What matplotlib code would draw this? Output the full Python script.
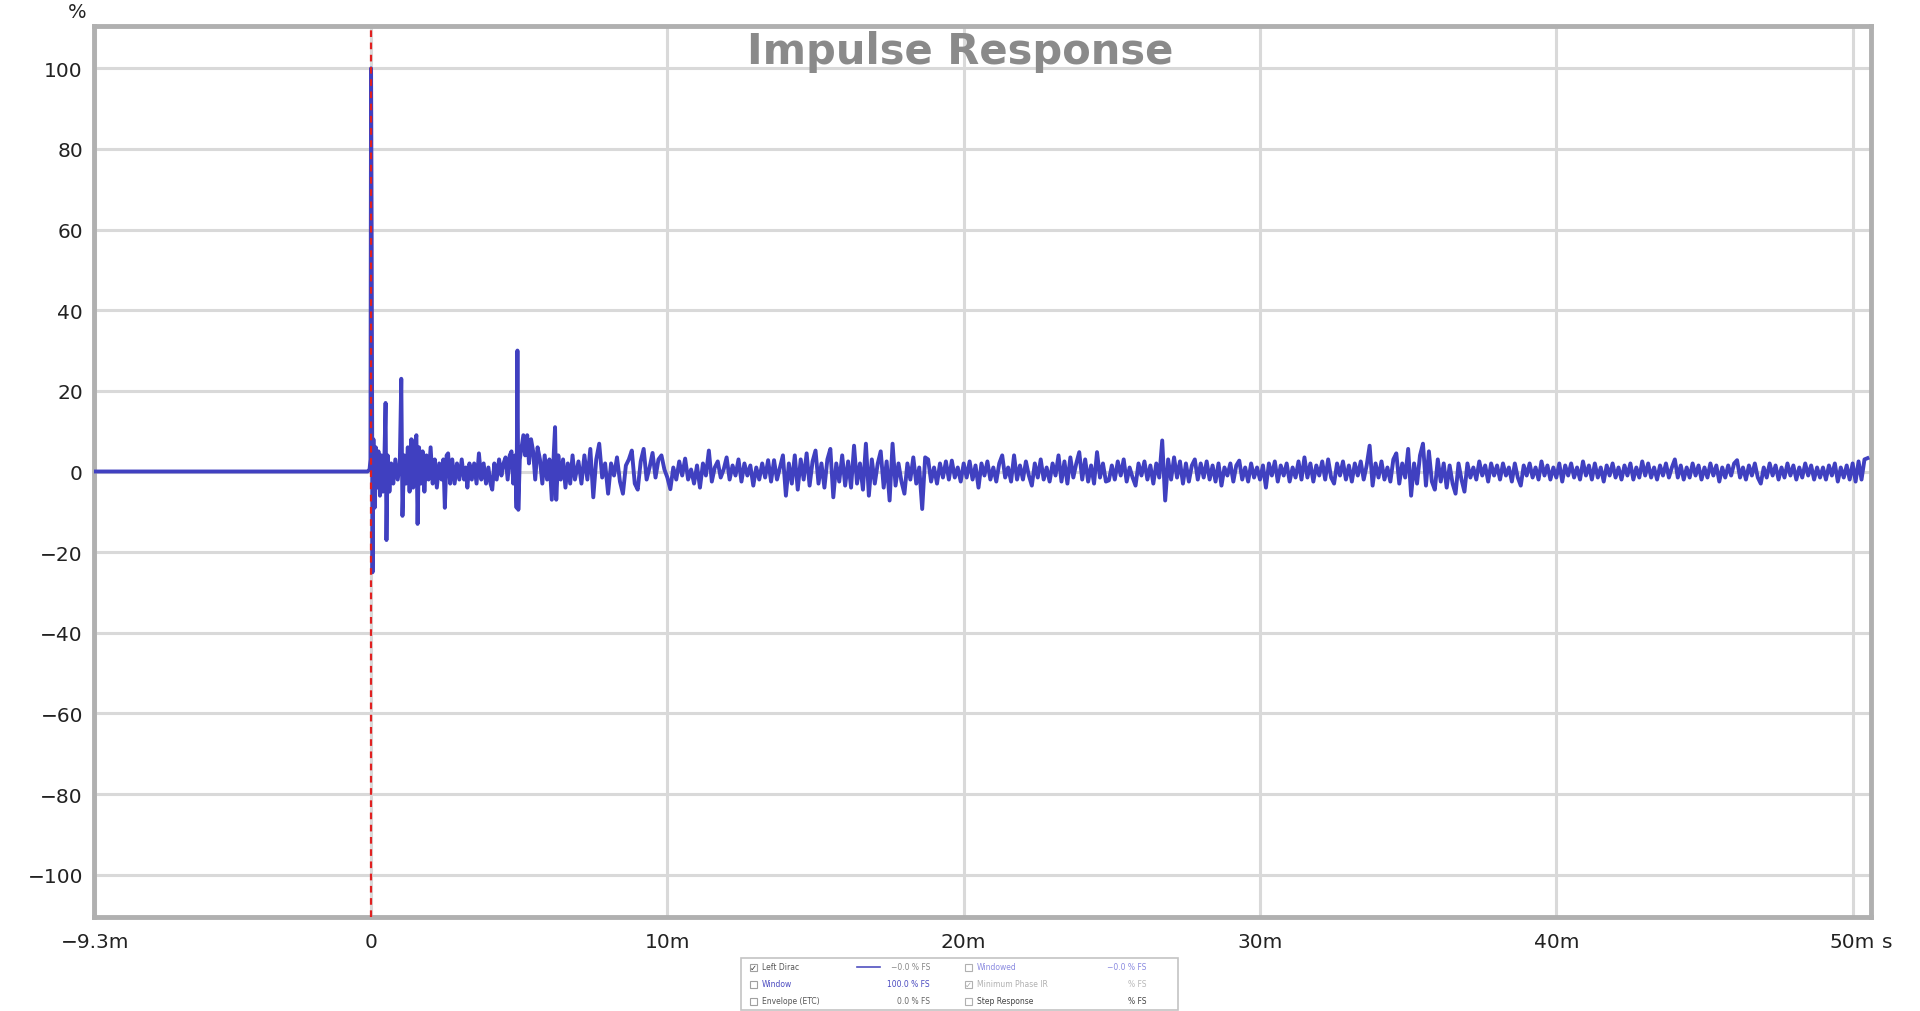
import matplotlib.pyplot as plt
import numpy as np
from matplotlib.patches import Rectangle
from matplotlib.lines import Line2D

# ---- data ----
# time in ms, amplitude in % FS
early_t = [-9.30, -0.12, -0.05, -0.02, 0.00, 0.02, 0.05, 0.08, 0.12, 0.16,
           0.20, 0.25, 0.30, 0.35, 0.40, 0.45, 0.49, 0.52, 0.56, 0.62,
           0.68, 0.75, 0.82, 0.90, 0.97, 1.02, 1.06, 1.12, 1.18, 1.24,
           1.30, 1.36, 1.42, 1.48, 1.53, 1.57, 1.62, 1.68, 1.74, 1.80,
           1.87, 1.94, 2.01, 2.08, 2.15, 2.22, 2.30, 2.38, 2.44, 2.49,
           2.55, 2.60, 2.67, 2.74, 2.82, 2.90, 2.98, 3.06, 3.14, 3.20,
           3.25, 3.32, 3.40, 3.48, 3.56, 3.64, 3.72, 3.80, 3.88, 3.96,
           4.03, 4.09, 4.16, 4.24, 4.32, 4.40, 4.47, 4.54, 4.61, 4.68,
           4.74, 4.80, 4.86, 4.91, 4.94, 4.97, 5.02, 5.08, 5.14, 5.20,
           5.27, 5.33, 5.40, 5.47, 5.54, 5.62, 5.70, 5.78, 5.86, 5.94,
           6.02, 6.10, 6.17, 6.21, 6.25, 6.32, 6.40, 6.48, 6.56, 6.64,
           6.72, 6.80, 6.88]
early_v = [0.0, 0.0, 0.5, 3.0, 100.0, 60.0, -25.0, 8.0, -9.0, 6.0,
           -4.0, 5.0, -6.0, 4.0, -5.0, 3.0, 17.0, -17.0, 4.0, -5.0,
           2.0, -3.0, 3.0, -2.0, 2.0, 23.0, -11.0, 4.0, -3.0, 6.0,
           -5.0, 8.0, -4.0, 7.0, 9.0, -13.0, 6.0, -3.0, 5.0, -5.0,
           4.0, -2.0, 6.0, -3.0, 3.0, -4.0, 2.0, -2.0, 3.0, -9.0,
           4.0, 4.5, -3.0, 3.0, -3.0, 2.0, -2.0, 3.0, -2.0, 1.0,
           -4.0, 2.0, -2.0, 2.0, -3.0, 4.5, -2.0, 2.0, -3.0, 1.0,
           -3.0, -4.5, 2.0, -2.0, 3.0, -1.0, 2.0, 3.5, -2.0, 4.0,
           5.0, -3.0, 4.0, -9.0, 30.0, -9.5, 3.0, 6.0, 9.0, 4.0,
           9.0, 2.0, 8.0, 5.0, -2.0, 6.0, 3.0, -3.0, 4.0, -2.0,
           3.0, -7.0, 5.0, 11.0, -7.0, 4.0, -2.0, 3.0, -4.0, 2.0,
           -3.0, 4.0, -2.0]

# tail of the response, one sample every 0.1 ms from 7.0 ms
tail_start = 7.0
tail_step = 0.1
tail_v = [
    2.5, -3.0, 4.0, -2.0, 5.6, -6.4, 3.0, 6.9, -1.5, 2.0,      # 7 ms
    -5.5, 2.0, -1.0, 3.5, -2.5, -5.5, 1.5, 3.0, 5.2, -3.0,     # 8
    -4.5, 2.5, 5.6, -2.0, 1.0, 4.6, -1.5, 3.0, 4.0, 0.5,       # 9
    -1.5, -4.4, 1.0, -2.0, 2.5, -1.0, 3.2, -2.0, 0.5, -3.0,    # 10
    1.5, -4.0, 2.0, -1.0, 5.2, -2.5, 1.0, 2.5, -1.5, 0.5,      # 11
    3.5, -2.0, 1.5, -1.0, 3.0, -2.5, 2.0, -1.0, 1.5, -3.5,     # 12
    1.0, -2.0, 2.0, -1.5, 2.8, -2.5, 2.8, -2.0, 1.0, 4.0,      # 13
    -6.0, 2.0, -3.0, 4.0, -4.5, 3.0, -2.0, 4.5, -3.5, 2.5,     # 14
    5.2, -3.0, 2.0, -4.0, 3.0, 5.6, -6.4, 2.0, -2.5, 4.0,      # 15
    -3.5, 2.5, -4.0, 6.4, -3.0, 2.0, -4.5, 6.9, -6.0, 3.0,     # 16
    -3.0, 2.0, 5.0, -4.0, 2.5, -7.2, 6.9, -3.5, 2.0, -2.5,     # 17
    -5.5, 2.0, -2.0, 3.5, -3.0, 1.0, -9.3, 3.5, 3.0, -2.5,     # 18
    1.0, -3.0, 2.0, -1.5, 2.5, -2.0, 2.7, -1.5, 1.0, -2.5,     # 19
    2.0, -1.5, 2.5, -2.0, 1.5, -4.0, 2.0, -1.0, 2.5, -2.0,     # 20
    1.0, -2.5, 2.0, 4.0, -1.5, 1.0, -2.5, 4.0, -2.0, 1.5,      # 21
    -2.0, 2.5, -1.0, -3.5, 2.0, -1.5, 3.0, -2.0, 1.0, -2.5,    # 22
    2.0, -1.0, 4.0, -2.5, 2.5, -3.0, 3.5, -1.5, 2.0, 4.8,      # 23
    -2.0, 3.0, -2.5, 1.5, -3.0, 4.8, -1.5, 2.0, -2.5, -2.2,    # 24
    1.5, -2.0, 2.5, -1.0, 3.0, -2.5, 1.0, -1.5, -3.5, 2.0,     # 25
    -1.0, 2.5, -2.0, 1.5, -3.0, 2.0, -1.5, 7.7, -7.2, 3.0,     # 26
    -2.0, 3.5, -1.5, 2.5, -3.0, 2.0, -2.5, 1.5, 3.0, -2.0,     # 27
    2.0, -1.5, 2.5, -2.0, 1.5, -2.5, 2.0, -3.5, 1.0, -1.0,     # 28
    2.0, -2.5, 1.5, 2.7, -2.0, 1.0, -2.5, 2.0, -1.5, 1.0,      # 29
    -2.0, 1.5, -4.0, 2.0, -1.0, 2.5, -2.5, 1.5, -1.0, 2.0,     # 30
    -2.5, 1.0, -1.5, 2.5, -2.0, 3.5, -1.5, 2.0, -2.5, 1.5,     # 31
    -1.0, 2.5, -2.0, 3.0, -1.5, -3.0, 2.0, -1.0, 2.5, -2.0,    # 32
    1.5, -2.5, 2.0, -1.0, 2.5, -2.0, 1.5, 6.4, -3.5, 2.0,      # 33
    -1.5, 2.5, -2.0, 1.0, -2.5, 3.0, 4.5, -3.0, 2.0, -1.5,     # 34
    5.6, -6.0, 2.0, -3.0, 4.0, 6.9, -3.5, 5.0, -2.5, -4.5,     # 35
    3.0, -2.5, 2.0, -4.0, 1.5, -3.0, -5.5, 2.0, -2.0, -5.0,    # 36
    2.0, -1.5, 1.0, -2.0, 2.5, -1.0, 1.5, -2.5, 2.0, -1.0,     # 37
    1.5, -2.0, 2.0, -1.0, 1.0, -2.5, 2.0, -1.5, -3.5, 1.5,     # 38
    -1.0, 2.0, -1.5, 1.0, -2.0, 2.5, -1.0, 1.5, -2.0, 1.0,     # 39
    -1.5, 2.0, -2.5, 1.5, -1.0, 2.0, -1.5, 1.0, -2.0, 2.5,     # 40
    -1.0, 1.5, -2.0, 2.0, -1.5, 1.0, -2.5, 1.5, -1.0, 2.0,     # 41
    -1.5, 1.0, -2.0, 1.5, -1.0, 2.0, -2.0, 1.0, -1.5, 2.5,     # 42
    -1.0, 2.0, -1.5, 1.0, -2.0, 1.5, -1.0, 2.0, -1.5, 1.0,     # 43
    3.0, -1.5, 1.5, -2.0, 1.0, -1.5, 2.0, -1.0, 1.5, -2.0,     # 44
    1.0, -1.5, 2.0, -1.0, 1.5, -2.5, 1.0, -1.5, 1.5, -1.0,     # 45
    2.0, 2.8, -1.5, 1.0, -2.0, 1.5, -1.0, 2.0, -1.5, -3.0,     # 46
    1.0, -1.5, 2.0, -1.0, 1.5, -2.0, 1.0, -1.5, 2.0, -1.0,     # 47
    1.5, -2.0, 1.0, -1.5, 2.0, -1.0, 1.5, -2.0, 1.0, -1.5,     # 48
    1.0, -2.0, 1.5, -1.0, 2.0, -2.5, 1.0, -1.5, 1.5, -2.0,     # 49
    2.0, -2.5, 2.5, -2.0, 3.0, 3.3,                            # 50
]

x_ticks = [-9.3, 0, 10, 20, 30, 40, 50]
x_labels = ['\u22129.3m', '0', '10m', '20m', '30m', '40m', '50m']
y_ticks = [100, 80, 60, 40, 20, 0, -20, -40, -60, -80, -100]

legend_rows = [
    # (checked, label, label colour, value, value colour)
    (True, 'Left Dirac', '#555555', '\u22120.0 % FS', '#888888'),
    (False, 'Window', '#4a4ac0', '100.0 % FS', '#4a4ac0'),
    (False, 'Envelope (ETC)', '#555555', '0.0 % FS', '#666666'),
]
legend_rows2 = [
    (False, 'Windowed', '#8a8ae0', '\u22120.0 % FS', '#8a8ae0'),
    (True, 'Minimum Phase IR', '#b0b0b0', '% FS', '#b8b8b8'),
    (False, 'Step Response', '#444444', '% FS', '#444444'),
]

W, H = 1920, 1012
line_col = '#4040c0'

t_all = early_t + list(tail_start + tail_step * np.arange(len(tail_v)))
v_all = early_v + tail_v

fig = plt.figure(figsize=(W / 100, H / 100), dpi=100)
ax = fig.add_axes([94 / W, 94 / H, (1871 - 94) / W, (985 - 94) / H])

ax.plot(t_all, v_all, color=line_col, lw=2.8, zorder=3, solid_joinstyle='round')
ax.axvline(0, color='#e02020', lw=1.6, ls=(0, (3, 2.5)), zorder=4)

ax.set_xlim(-9.35, 50.62)
ax.set_ylim(-110.5, 110.5)
ax.set_xticks(x_ticks)
ax.set_xticklabels(x_labels)
ax.set_yticks(y_ticks)
ax.set_yticklabels([str(v).replace('-', '\u2212') for v in y_ticks])
ax.tick_params(length=0, labelsize=14.5, colors='#222222')
ax.tick_params(axis='x', pad=11)
ax.tick_params(axis='y', pad=8)
ax.grid(True, color='#d9d9d9', lw=2.2, zorder=0)
ax.set_axisbelow(True)
for s in ax.spines.values():
    s.set_color('#b0b0b0')
    s.set_linewidth(3.5)

# units
ax.annotate('s', xy=(50, 0), xycoords=('data', 'axes fraction'),
            xytext=(25, -11), textcoords='offset points',
            ha='center', va='top', fontsize=14.5, color='#222222')
fig.text(77 / W, 1 - 12 / H, '%', ha='center', va='center', fontsize=14, color='#222222')

fig.text(0.5, 1 - 52 / H, 'Impulse Response', ha='center', va='center',
         fontsize=30, fontweight='bold', color='#8a8a8a')


# ---- legend panel under the plot ----
def fx(px):
    return px / W


def fy(py):
    return 1 - py / H


fig.add_artist(Rectangle((fx(741), fy(1011)), fx(437), 52 / H, transform=fig.transFigure,
                         fill=False, ec='#c4c4c4', lw=1.2))

row_y = [968, 985, 1002]
for i, (chk, lab, lc, val, vc) in enumerate(legend_rows):
    y = row_y[i]
    fig.add_artist(Rectangle((fx(750), fy(y + 3.5)), fx(7), 7 / H, transform=fig.transFigure,
                             fill=True, fc='white', ec='#a0a0a0', lw=0.8))
    if chk:
        fig.text(fx(753.5), fy(y), '\u2713', ha='center', va='center', fontsize=6, color='#333333')
    fig.text(fx(762), fy(y), lab, ha='left', va='center', fontsize=5.5, color=lc)
    fig.text(fx(930), fy(y), val, ha='right', va='center', fontsize=5.5, color=vc)

fig.add_artist(Line2D([fx(857), fx(880)], [fy(968), fy(968)], transform=fig.transFigure,
                      color='#5050c0', lw=1.2))

for i, (chk, lab, lc, val, vc) in enumerate(legend_rows2):
    y = row_y[i]
    fig.add_artist(Rectangle((fx(965), fy(y + 3.5)), fx(7), 7 / H, transform=fig.transFigure,
                             fill=True, fc='white', ec='#b0b0b0', lw=0.8))
    if chk:
        fig.text(fx(968.5), fy(y), '\u2713', ha='center', va='center', fontsize=6, color='#aaaaaa')
    fig.text(fx(977), fy(y), lab, ha='left', va='center', fontsize=5.5, color=lc)
    fig.text(fx(1146), fy(y), val, ha='right', va='center', fontsize=5.5, color=vc)

fig.savefig('out.png', dpi=100)
